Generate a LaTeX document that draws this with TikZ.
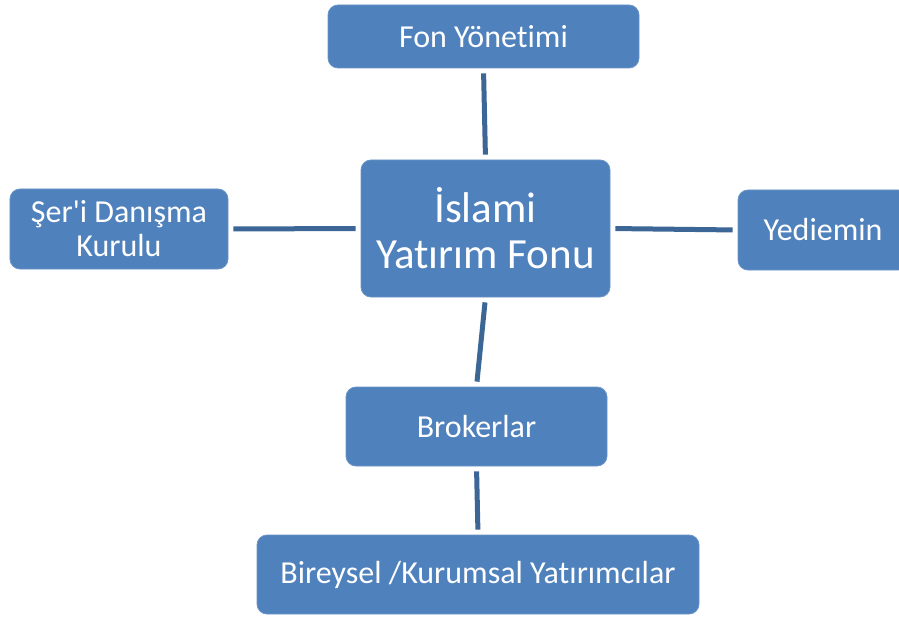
\documentclass[tikz,border=0pt]{standalone}
\usepackage{fontspec}
\setmainfont{Carlito}[Ligatures=NoCommon]
\usepackage{tikz}
\usetikzlibrary{positioning}
\usepackage{xcolor}
\definecolor{boxblue}{HTML}{4F81BD}
\definecolor{linkblue}{HTML}{3C6696}

\tikzset{
 unit/.style={rectangle, rounded corners=10bp, fill=boxblue, draw=boxblue!85!white,
  line width=0.8bp, text=white, align=center, inner sep=0pt,
  font=\fontsize{32bp}{36bp}\selectfont},
 link/.style={-, draw=linkblue, line width=5bp, shorten <=5bp, shorten >=5bp}
}

\begin{document}
\begin{tikzpicture}[x=1bp,y=-1bp]
 \useasboundingbox (0,0) rectangle (899,619);
 \clip (0,0) rectangle (899,619);

 % the fund in the middle, bigger text
 \node[unit, minimum width=249bp, minimum height=137bp,
  font=\fontsize{43bp}{46bp}\selectfont] (Fund) at (485.5,228.5)
 {İslami\\Yatırım Fonu};

 % the four boxes round it
 \node[unit, minimum width=311bp, minimum height=63bp] (Manage) at (483.5,36.5) {Fon Yönetimi};
 \node[unit, minimum width=218bp, minimum height=80bp,
  font=\fontsize{32bp}{34bp}\selectfont] (Board) at (119,229) {Şer\textquotesingle i Danışma\\Kurulu};
 \node[unit, minimum width=170bp, minimum height=80bp] (Custody) at (823,230) {Yediemin};
 \node[unit, minimum width=261bp, minimum height=79bp] (Brokers) at (476.5,426.5) {Brokerlar};

 % investors at the bottom
 \node[unit, minimum width=442bp, minimum height=79bp] (Investors) at (478,574.5)
 {Bireysel /Kurumsal Yatırımcılar};

 % plain links, no arrows
 \path (Manage.south) edge[link] (Fund.north);
 \path (Board.east) edge[link] (Fund.west);
 \path (Fund.east) edge[link] (Custody.west);
 \path (Fund.south) edge[link] (Brokers.north);
 \path (Brokers.south) edge[link] (Investors.north);

\end{tikzpicture}
\end{document}
